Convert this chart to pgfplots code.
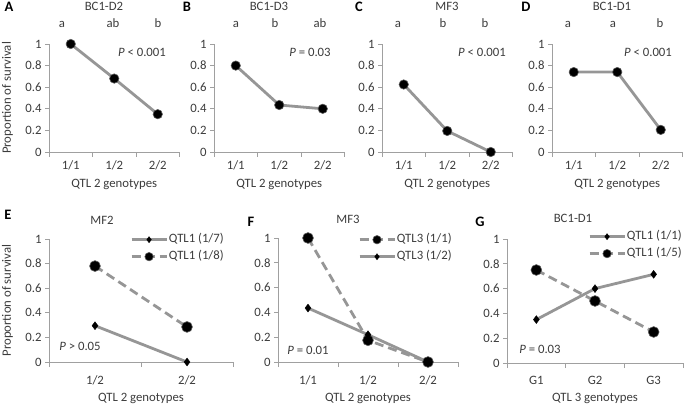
\documentclass[border=0pt]{standalone}
\usepackage{fontspec}
\setmainfont{Carlito}
\usepackage{pgfplots}
\pgfplotsset{compat=1.18}
\definecolor{lc}{RGB}{150,150,150}
\definecolor{ax}{RGB}{160,160,160}
\definecolor{tx}{RGB}{60,60,60}
\newcommand{\fs}{\fontsize{12.8}{14}\selectfont}
\pgfplotsset{
  panel/.style={
    scale only axis, clip=false,
    axis lines*=left, axis line style={-,draw=ax,line width=0.8bp},
    ymin=0, ymax=1, ytick={0,0.2,0.4,0.6,0.8,1},
    yticklabels={0,0.2,0.4,0.6,0.8,1},
    tick align=outside,
    major tick length=4bp, minor tick length=5bp,
    tick style={draw=ax,line width=0.8bp},
    major x tick style={draw=none},
    ticklabel style={font=\fs, text=tx},
    label style={font=\fs, text=tx},
    legend style={draw=none, fill=none, font=\fs, text=tx, inner sep=0pt,
      nodes={inner xsep=1bp, inner ysep=0pt, text height=9bp, text depth=3bp, anchor=west},
      row sep=5bp, legend cell align=left},
    legend image code/.code={\draw[mark repeat=2,mark phase=2,##1,every mark/.append style={scale=0.78}] plot coordinates {(0bp,0bp) (17.5bp,0bp) (35bp,0bp)};},
  },
  toprow/.style={panel, width=130.5bp, height=108bp, xmin=0, xmax=3,
    xtick={0.5,1.5,2.5}, minor xtick={0,1,2,3}, xticklabels={1/1,1/2,2/2},
    xticklabel style={yshift=-1bp},
    xlabel={QTL 2 genotypes},
    xlabel style={at={(axis description cs:0.5,-0.333)}, anchor=base}},
  cir/.style={color=lc, line width=2.8bp, mark=*, mark size=4.7bp,
    mark options={fill=black, draw=lc!60!black, line width=0.6bp, solid}},
  bcir/.style={cir, mark size=5.4bp},
  dia/.style={color=lc, line width=2.8bp, mark=diamond*, mark size=4bp,
    mark options={fill=black, draw=black, line width=0.3bp, solid}},
  dsh/.style={dash pattern=on 9bp off 5bp},
}
\begin{document}
\begin{tikzpicture}
\path[use as bounding box] (0bp,0bp) rectangle (685bp,404bp);
% ---------- A ----------
\begin{axis}[toprow, at={(49bp,252bp)}, anchor=south west,
  ylabel={Proportion of survival},
  ylabel style={at={(axis description cs:-0.318,0.5)}, rotate=0, anchor=center}]
\addplot[cir] coordinates {(0.5,1) (1.5,0.68) (2.5,0.35)};
\end{axis}
% ---------- B ----------
\begin{axis}[toprow, at={(214bp,252bp)}, anchor=south west]
\addplot[cir] coordinates {(0.5,0.80) (1.5,0.435) (2.5,0.40)};
\end{axis}
% ---------- C ----------
\begin{axis}[toprow, at={(382bp,252bp)}, anchor=south west]
\addplot[cir] coordinates {(0.5,0.625) (1.5,0.195) (2.5,0.0)};
\end{axis}
% ---------- D ----------
\begin{axis}[toprow, at={(552bp,252bp)}, anchor=south west]
\addplot[cir] coordinates {(0.5,0.74) (1.5,0.74) (2.5,0.205)};
\end{axis}
% ---------- E ----------
\begin{axis}[panel, at={(49bp,42bp)}, anchor=south west, width=184bp, height=123bp,
  xmin=0, xmax=2, xtick={0.5,1.5}, minor xtick={0,1,2}, xticklabels={1/2,2/2},
  xticklabel style={yshift=-6bp},
  xlabel={QTL 2 genotypes},
  xlabel style={at={(axis description cs:0.5,-0.321)}, anchor=base},
  ylabel={Proportion of survival},
  ylabel style={at={(axis description cs:-0.226,0.5)}, rotate=0, anchor=center},
  legend style={at={(axis description cs:0.44,1.045)}, anchor=north west}]
\addplot[dia] coordinates {(0.5,0.295) (1.5,0.0)};
\addlegendentry{QTL1 (1/7)}
\addplot[bcir,dsh] coordinates {(0.5,0.78) (1.5,0.285)};
\addlegendentry{QTL1 (1/8)}
\end{axis}
% ---------- F ----------
\begin{axis}[panel, at={(278bp,42bp)}, anchor=south west, width=180bp, height=124bp,
  xmin=0, xmax=3, xtick={0.5,1.5,2.5}, minor xtick={0,1,2,3}, xticklabels={1/1,1/2,2/2},
  xticklabel style={yshift=-6bp},
  xlabel={QTL 2 genotypes},
  xlabel style={at={(axis description cs:0.5,-0.319)}, anchor=base},
  legend style={at={(axis description cs:0.444,1.036)}, anchor=north west}]
\addplot[bcir,dsh] coordinates {(0.5,1.0) (1.5,0.175) (2.5,0.0)};
\addlegendentry{QTL3 (1/1)}
\addplot[dia] coordinates {(0.5,0.435) (1.5,0.22) (2.5,0.0)};
\addlegendentry{QTL3 (1/2)}
\end{axis}
% ---------- G ----------
\begin{axis}[panel, at={(507bp,41bp)}, anchor=south west, width=176bp, height=124bp,
  xmin=0, xmax=3, xtick={0.5,1.5,2.5}, minor xtick={0,1,2,3}, xticklabels={G1,G2,G3},
  xticklabel style={yshift=-6bp},
  xlabel={QTL 3 genotypes},
  xlabel style={at={(axis description cs:0.5,-0.31)}, anchor=base},
  legend style={at={(axis description cs:0.46,1.069)}, anchor=north west}]
\addplot[dia] coordinates {(0.5,0.35) (1.5,0.60) (2.5,0.715)};
\addlegendentry{QTL1 (1/1)}
\addplot[bcir,dsh] coordinates {(0.5,0.75) (1.5,0.50) (2.5,0.25)};
\addlegendentry{QTL1 (1/5)}
\end{axis}
% ---------- panel letters ----------
\begin{scope}[every node/.style={anchor=base, font=\bfseries\fontsize{14.5}{16}\selectfont, text=black}]
\node at (9bp,392bp) {A};
\node at (187bp,392bp) {B};
\node at (359bp,392bp) {C};
\node at (526bp,392bp) {D};
\node at (8bp,184bp) {E};
\node at (251bp,177bp) {F};
\node at (480bp,177bp) {G};
\end{scope}
% ---------- titles, significance letters, P values ----------
\begin{scope}[every node/.style={anchor=base, font=\fs, text=tx}]
\node at (104bp,393bp) {BC1-D2};
\node at (269bp,393bp) {BC1-D3};
\node at (447bp,393bp) {MF3};
\node at (612bp,393bp) {BC1-D1};
\node at (102bp,179bp) {MF2};
\node at (348bp,180bp) {MF3};
\node at (573bp,181bp) {BC1-D1};
\foreach \x/\t in {62/a,113/ab,158/b,236/a,275/b,320/ab,398/a,443/b,485/b,568/a,613/a,660/b}
  \node at (\x bp,376bp) {\t};
\node at (142bp,347bp) {\textit{P} < 0.001};
\node at (310bp,347bp) {\textit{P} = 0.03};
\node at (482bp,347bp) {\textit{P} < 0.001};
\node at (648bp,347bp) {\textit{P} < 0.001};
\node at (80bp,53bp) {\textit{P} > 0.05};
\node at (308bp,49bp) {\textit{P} = 0.01};
\node at (540bp,50bp) {\textit{P} = 0.03};
\end{scope}
\end{tikzpicture}
\end{document}
